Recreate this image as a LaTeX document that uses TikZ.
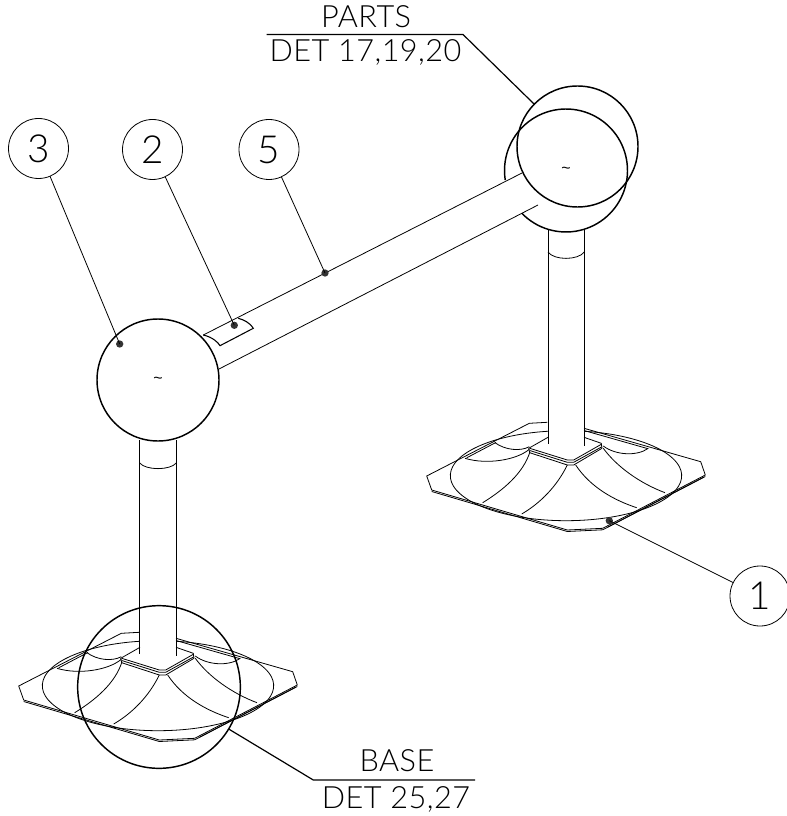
\documentclass[tikz,border=0pt]{standalone}
\usepackage{fontspec}
\setmainfont{Lato Light}
\newfontfamily\markfont{Liberation Sans}
\begin{document}
\begin{tikzpicture}[x=0.75pt, y=-0.75pt]
    \tikzset{
        thinline/.style={line width=0.6pt, black},
        ball/.style={draw, circle, line width=1.1pt, inner sep=0pt, outer sep=0pt, minimum size=91.5pt},
        loopc/.style={ball, minimum size=122pt},
        balloon/.style={draw, circle, line width=0.6pt, inner sep=0pt, outer sep=0pt, minimum size=45pt, font=\fontsize{29}{30}\selectfont},
        dot/.style={circle, fill=black!80, inner sep=0pt, outer sep=0pt, minimum size=5.5pt},
        caption/.style={anchor=base, inner sep=0pt, font=\fontsize{23}{25}\selectfont\addfontfeatures{LetterSpace=1.5}},
        tildemark/.style={inner sep=0pt, font=\markfont\fontsize{12}{13}\selectfont}
        }
    \useasboundingbox (0,0) rectangle (786,816);

    %bases
    \foreach \bx/\by in {158/654, 566/444}{
    \begin{scope}[shift={(\bx,\by)}, thinline]
        %plate
        \draw (-18.7,-21.7) -- (-36.7,-20.7) -- (-139.3,32) -- (-134.3,46) -- (1.3,86) -- (36.7,84.3) -- (139.3,31) -- (134.7,17.7) -- (18,-15.7);
        \draw (-134.3,47.5) -- (1.3,87.5) -- (36.7,85.8) -- (139.3,32.5);
        \draw (-99.3,13.8) -- (-70,-1.6);
        \draw (18,-13.5) -- (82,4.7);
        \draw (42,83) -- (137,33.5);
        %ellipse
        \draw plot[smooth, domain=99:441, samples=70] ({115.7*cos(\x)},{31.7-45*sin(\x)});
        %pad
        \draw (-18,-6.7) -- (-37.3,4.3) -- (-36.3,8.7);
        \draw (18,-6.7) -- (35.3,-0.7) -- (36,4.3);
        \draw (-36.3,4.3) -- (1.3,16) -- (7.7,16) -- (35.3,0.3);
        \draw (-36.3,6.5) -- (1.3,18.3) -- (7.7,18.3) -- (36,2.7);
        \draw (-36.3,8.7) -- (1.3,21) -- (7.7,21) -- (36,4.3);
        %flutes
        \draw (-36.7,5.3) .. controls (-49.3,16) and (-79.3,21) .. (-101,14.3);
        \draw (-36.7,2.7) .. controls (-46,7.7) and (-61,6) .. (-71,-1.3);
        \draw (-36,7.7) .. controls (-42.7,29.3) and (-62.7,46) .. (-83.3,58.7);
        \draw (1.3,21) .. controls (-9.3,42.7) and (-26,59.3) .. (-44.3,70);
        \draw (9.7,21) .. controls (24,42.7) and (47.3,56) .. (70.7,63.7);
        \draw (37.3,4.3) .. controls (50.7,22.7) and (74,39.3) .. (99,48.7);
        \draw (37.3,2) .. controls (49,11) and (70.7,12.7) .. (82.3,4.3);
    \end{scope}
    }

    %posts
    \draw[thinline] (139.7,440) -- (139.7,654);
    \draw[thinline] (176.3,440) -- (176.3,656);
    \draw[thinline] (139.7,463) .. controls (146,470.5) and (170,470.5) .. (176.3,463);
    \draw[thinline] (548,229) -- (548,444);
    \draw[thinline] (584.3,229) -- (584.3,446);
    \draw[thinline] (548,252) .. controls (554,260.5) and (578,260.5) .. (584.3,252);

    %tube
    \draw[thinline] (203.3,335) -- (522,173);
    \draw[thinline] (219,369) -- (538,205);

    %tag on tube
    \draw[thinline, line width=0.8pt] (203.3,335) .. controls (212,337) and (218,342) .. (220,345.7) -- (253.3,328.3) .. controls (249,322) and (244,320) .. (238.3,318.3);

    %spheres
    \node (leftball) [ball] at (158,380) {};
    \node (leftmark) [tildemark] at (158,380) {\textasciitilde};
    \node (topball) [ball, minimum size=90.75pt] at (577.5,146.5) {};
    \draw[line width=1.1pt] plot[smooth, domain=224:549, samples=90] ({566+61.5*cos(\x)},{170.5-61.5*sin(\x)});
    \node (topmark) [tildemark] at (566,170) {\textasciitilde};

    %detail loop
    \node (baseloop) [loopc] at (159,687) {};

    %balloons and dots
    \node (one) [balloon] at (760,596) {1};
    \node (two) [balloon] at (152.5,149.5) {2};
    \node (three) [balloon] at (38.5,148.5) {3};
    \node (five) [balloon] at (269,149.5) {5};
    \node (dotone) [dot] at (609.3,520.7) {};
    \node (dottwo) [dot] at (234.3,325.3) {};
    \node (dotthree) [dot] at (119.7,344) {};
    \node (dotfive) [dot] at (325,273) {};

    \draw[thinline] (one) -- (dotone.center);
    \draw[thinline] (two) -- (dottwo.center);
    \draw[thinline] (three) -- (dotthree.center);
    \draw[thinline] (five) -- (dotfive.center);

    %captions
    \node (parts) [caption] at (366,28) {PARTS};
    \node (partsdet) [caption] at (365.5,62) {DET 17,19,20};
    \node (base) [caption] at (397,771) {BASE};
    \node (basedet) [caption] at (396,808) {DET 25,27};

    \coordinate (partsend) at (266.7,34.5);
    \coordinate (partselbow) at (463,34.5);
    \coordinate (baseend) at (475,780);
    \coordinate (baseelbow) at (313.3,780);
    \draw[line width=0.9pt] (partsend) -- (partselbow) -- (topball);
    \draw[line width=0.9pt] (baseend) -- (baseelbow) -- (baseloop);
\end{tikzpicture}
\end{document}
